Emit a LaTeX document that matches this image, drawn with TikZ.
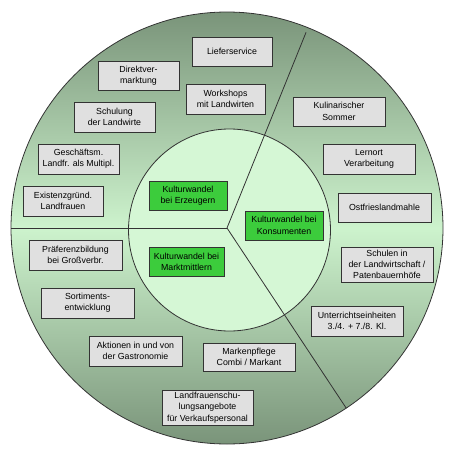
\documentclass[tikz,border=0pt]{standalone}
\usepackage{fontspec}
\setmainfont{Liberation Sans}

\definecolor{ringdark}{HTML}{7A947A}
\definecolor{ringlight}{HTML}{CDF3CD}
\definecolor{innerfill}{HTML}{D5F7D5}
\definecolor{kerngreen}{HTML}{3CCC3C}
\definecolor{topicgray}{HTML}{E0E0E0}

\tikzset{
    topic/.style={draw=black!80, fill=topicgray, inner sep=0pt, align=center,
        minimum height=29pt, font=\fontsize{8.8}{11.3}\selectfont},
    kern/.style={topic, fill=kerngreen},
    divider/.style={draw=black!80, line width=0.8pt},
}

\begin{document}
\begin{tikzpicture}[x=1pt, y=-1pt]
    \useasboundingbox (0,0) rectangle (452,453);

    \shade[top color=ringdark, bottom color=ringdark, middle color=ringlight] (227,228) circle[radius=216pt];
    \draw[black!80, line width=0.8pt] (227,228) circle[radius=216pt];
    \filldraw[fill=innerfill, draw=black!80, line width=0.8pt] (229.5,230) circle[radius=101pt];

    \coordinate (c)  at (227,228);
    \coordinate (ne) at ([shift={(-68:211)}]c);
    \coordinate (se) at ([shift={(56.5:216)}]c);
    \coordinate (w)  at ([shift={(180:216)}]c);

    \draw[divider] (c) -- (ne);
    \draw[divider] (c) -- (se);
    \draw[divider] (c) -- (w);

    \node[kern, minimum width=78pt]               (erzeuger)  at (188,195.5) {Kulturwandel\\bei Erzeugern};
    \node[kern, minimum width=78pt]               (konsum)    at (284,225.5) {Kulturwandel bei\\Konsumenten};
    \node[kern, minimum width=75pt]               (markt)     at (186.5,262) {Kulturwandel bei\\Marktmittlern};

    \node[topic, minimum width=80pt]              (liefer)    at (232,51.5)  {Lieferservice};
    \node[topic, minimum width=81pt]              (direkt)    at (138.5,75.5) {Direktver-\\marktung};
    \node[topic, minimum width=79pt, minimum height=30pt] (workshop) at (225.5,99) {Workshops\\mit Landwirten};
    \node[topic, minimum width=81pt, minimum height=30pt] (schulung) at (114.5,117) {Schulung\\der Landwirte};
    \node[topic, minimum width=81pt, minimum height=30pt] (geschaeft) at (78.5,159) {Geschäftsm.\\Landfr. als Multipl.};
    \node[topic, minimum width=80pt, minimum height=30pt] (existenz) at (63,201) {Existenzgründ.\\Landfrauen};

    \node[topic, minimum width=92pt]              (kulinar)   at (339,111.5) {Kulinarischer\\Sommer};
    \node[topic, minimum width=92pt, minimum height=30pt] (lernort) at (369,159) {Lernort\\Verarbeitung};
    \node[topic, minimum width=93pt]              (ostfr)     at (384.5,207.5) {Ostfrieslandmahle};
    \node[topic, minimum width=92pt, minimum height=35pt] (schulen) at (387,264.5) {Schulen in\\der Landwirtschaft /\\Patenbauernhöfe};
    \node[topic, minimum width=92pt, minimum height=30pt] (unterricht) at (357,321) {Unterrichtseinheiten\\3./4. + 7./8. Kl.};

    \node[topic, minimum width=93pt, minimum height=30pt] (praef)   at (75.5,255) {Präferenzbildung\\bei Großverbr.};
    \node[topic, minimum width=93pt, minimum height=30pt] (sortiment) at (87.5,303) {Sortiments-\\entwicklung};
    \node[topic, minimum width=93pt, minimum height=30pt] (aktion)  at (135.5,351) {Aktionen in und von\\der Gastronomie};
    \node[topic, minimum width=92pt, minimum height=28pt] (marken)  at (249,357) {Markenpflege\\Combi / Markant};
    \node[topic, minimum width=91pt, minimum height=35pt] (landfr)  at (207.5,407.5) {Landfrauenschu-\\lungsangebote\\für Verkaufspersonal};
\end{tikzpicture}
\end{document}
